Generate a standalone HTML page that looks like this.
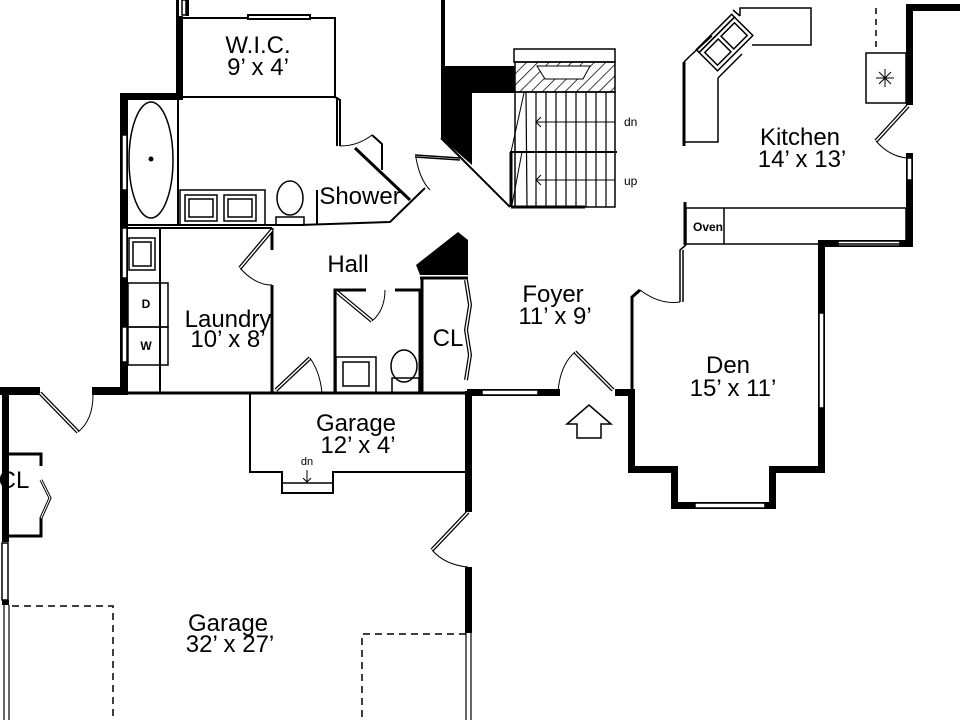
<!DOCTYPE html>
<html><head><meta charset="utf-8"><style>
html,body{margin:0;padding:0;background:#fff}
svg{display:block}
text{font-family:"Liberation Sans",sans-serif;fill:#000}
.lb{font-size:24px}
</style></head><body>
<svg width="960" height="720" viewBox="0 0 960 720" xmlns="http://www.w3.org/2000/svg">
<g fill="none" stroke="#000" stroke-width="2">
<rect x="181" y="18" width="154" height="79"/>
<rect x="248" y="15" width="62" height="4" fill="#fff"/>
<line x1="335" y1="97" x2="340" y2="100"/>
</g>
<g fill="#000">
<rect x="176" y="16" width="7" height="82"/>
<rect x="120" y="93" width="63" height="7"/>
<rect x="120" y="93" width="8" height="302"/>
<rect x="0" y="387" width="40" height="8"/>
<rect x="92" y="387" width="36" height="8"/>
<rect x="2" y="387" width="7" height="155"/>
<rect x="2" y="600" width="7" height="5"/>
<rect x="465" y="391" width="7" height="121"/>
<rect x="465" y="567" width="7" height="66"/>
<rect x="467" y="389" width="8" height="7"/>
<rect x="475" y="389" width="85" height="7"/>
<rect x="615" y="389" width="20" height="7"/>
<rect x="628" y="389" width="7" height="84"/>
<rect x="628" y="466" width="50" height="7"/>
<rect x="671" y="466" width="7" height="43"/>
<rect x="671" y="502" width="105" height="7"/>
<rect x="769" y="466" width="7" height="43"/>
<rect x="769" y="466" width="55" height="7"/>
<rect x="818" y="242" width="7" height="231"/>
<rect x="818" y="240" width="95" height="7"/>
<rect x="906" y="153" width="7" height="94"/>
<rect x="906" y="5" width="7" height="100"/>
<rect x="906" y="4" width="54" height="7"/>
<polygon points="441,0 445,0 445,66 515,66 515,93 472,93 472,165 441,138"/>
<polygon points="416,265 458,232 468,240 468,275 420,275"/>
<rect x="176" y="0" width="3" height="16"/><rect x="186" y="0" width="3" height="16"/>
</g>
<g fill="#fff" stroke="#000" stroke-width="1.5">
<rect x="122" y="135" width="5" height="55"/>
<rect x="122" y="228" width="5" height="50"/>
<rect x="122" y="327" width="5" height="35"/>
<rect x="2" y="543" width="6" height="57"/>
<rect x="482" y="390" width="56" height="5"/>
<rect x="695" y="503" width="70" height="5"/>
<rect x="819" y="313" width="5" height="95"/>
<rect x="838" y="241" width="62" height="5"/>
<rect x="907" y="158" width="5" height="22"/>
<rect x="182" y="0" width="4" height="15"/>
</g>
<g fill="none" stroke="#000" stroke-width="2">
<line x1="128" y1="225" x2="300" y2="225"/>
<path d="M300 225 L390 222 L425 188"/>
<line x1="178" y1="98" x2="178" y2="225"/>
<ellipse cx="151" cy="160" rx="22" ry="58" stroke-width="1.5"/>
<rect x="180" y="190" width="85" height="35" stroke-width="1.5"/>
<rect x="185" y="195" width="32" height="26" stroke-width="1.5"/>
<rect x="189" y="199" width="24" height="18" stroke-width="1.5"/>
<rect x="224" y="195" width="32" height="26" stroke-width="1.5"/>
<rect x="228" y="199" width="24" height="18" stroke-width="1.5"/>
<ellipse cx="290" cy="198" rx="13" ry="17" stroke-width="1.5"/>
<rect x="276" y="217" width="28" height="8" stroke-width="1.5"/>
<line x1="317" y1="190" x2="317" y2="225"/>
<line x1="355" y1="148" x2="410" y2="200" stroke-width="3"/>
<path d="M337 97 L337 146 M340 99 L340 146 M372 135 L382 144 L382 170" stroke-width="2"/>
<path d="M340 146 Q358 146 372 135" stroke-width="1"/>
<path d="M415 157 L460 160 M415 155 L460 158" stroke-width="1.5"/>
<path d="M416 158 Q420 180 430 190" stroke-width="1"/>
<line x1="128" y1="228" x2="272" y2="228"/>
<line x1="160" y1="228" x2="160" y2="393"/>
<rect x="129" y="238" width="26" height="32" stroke-width="1.5"/>
<rect x="133" y="242" width="18" height="24" stroke-width="1.5"/>
<rect x="128" y="283" width="40" height="44" stroke-width="1.5"/>
<rect x="128" y="327" width="40" height="38" stroke-width="1.5"/>
<line x1="272" y1="228" x2="272" y2="250" stroke-width="3"/>
<line x1="272" y1="285" x2="272" y2="393" stroke-width="3"/>
<path d="M272 230 L240 268" stroke-width="4"/><path d="M272 230 L240 268" stroke="#fff" stroke-width="1.5"/>
<path d="M240 268 Q255 285 272 285" stroke-width="1"/>
<path d="M335 393 L335 290 L366 290 M395 290 L420 290 L420 393" stroke-width="3"/>
<line x1="337" y1="292" x2="372" y2="321" stroke-width="4"/><line x1="337" y1="292" x2="372" y2="321" stroke="#fff" stroke-width="1.5"/>
<path d="M372 321 Q385 310 385 290" stroke-width="1"/>
<rect x="336" y="357" width="40" height="36" stroke-width="1.5"/>
<rect x="343" y="362" width="26" height="24" stroke-width="1.5"/>
<ellipse cx="404" cy="366" rx="13" ry="16" stroke-width="1.5"/>
<rect x="392" y="378" width="27" height="15" stroke-width="1.5"/>
<line x1="420" y1="278" x2="468" y2="278" stroke-width="3"/>
<path d="M422 278 L422 393" stroke-width="3"/>
<path d="M466 280 L470 305 L466 330 L470 355 L466 380" stroke-width="4"/><path d="M466 280 L470 305 L466 330 L470 355 L466 380" stroke="#fff" stroke-width="1.5"/>
<line x1="276" y1="390" x2="310" y2="358" stroke-width="4"/><line x1="276" y1="390" x2="310" y2="358" stroke="#fff" stroke-width="1.5"/>
<path d="M310 358 Q320 372 322 393" stroke-width="1"/>
<line x1="128" y1="393" x2="335" y2="393" stroke-width="3"/>
<line x1="322" y1="393" x2="468" y2="393" stroke-width="3"/>
<path d="M250 393 L250 472 L282 472 L282 493 L333 493 L333 472 L465 472"/>
<line x1="282" y1="483" x2="333" y2="483" stroke-width="1.5"/>
<path d="M307 470 L307 482 M303 478 L307 482 L311 478" stroke-width="1"/>
<path d="M40 393 L78 432" stroke-width="4"/><path d="M40 393 L78 432" stroke="#fff" stroke-width="1.5"/>
<path d="M78 432 Q93 420 93 395" stroke-width="1"/>
<path d="M8 454 L41 454 L41 466 M41 480 L50 498 L41 518 L41 536 L8 536" stroke-width="3"/>
<path d="M41 480 L50 498 L41 518" stroke="#fff" stroke-width="1"/>
<line x1="468" y1="512" x2="432" y2="550" stroke-width="4"/><line x1="468" y1="512" x2="432" y2="550" stroke="#fff" stroke-width="1.5"/>
<path d="M432 550 Q445 565 468 567" stroke-width="1"/>
<path d="M12 606 L113 606 L113 720" stroke-dasharray="7,5" stroke-width="1.5"/>
<path d="M466 634 L362 634 L362 720" stroke-dasharray="7,5" stroke-width="1.5"/>
<path d="M4 605 L4 720 M9 605 L9 720 M466 633 L466 720 M471 633 L471 720" stroke-width="1.2"/>
<line x1="575" y1="352" x2="613" y2="390" stroke-width="4"/><line x1="575" y1="352" x2="613" y2="390" stroke="#fff" stroke-width="1.5"/>
<path d="M575 352 Q560 365 558 392" stroke-width="1"/>
<path d="M567 424 L589 405 L611 424 L601 424 L601 438 L577 438 L577 424 Z" stroke-width="1.5"/>
<path d="M632 393 L632 297 L640 290" stroke-width="3"/>
<path d="M640 290 Q660 305 680 302" stroke-width="1"/>
<path d="M680 302 L680 250 L686 245 M683 302 L683 250" stroke-width="1.5"/>
<line x1="685" y1="245" x2="685" y2="202" stroke-width="3"/>
<rect x="686" y="208" width="220" height="36" stroke-width="1.5"/>
<line x1="724" y1="208" x2="724" y2="244" stroke-width="1.5"/>
<!-- kitchen counter -->
<path d="M684 62 L690 56 L712 36 M718 78 L742 54 M718 78 L718 142 L684 142" stroke-width="1.5"/>
<line x1="684" y1="62" x2="684" y2="146" stroke-width="3"/>
<path d="M740 16 L740 8 L811 8 L811 45 L752 45 M740 16 L733 10" stroke-width="1.5"/>
<g transform="rotate(-45 726 44)" stroke-width="1.5"><rect x="701" y="31" width="50" height="26" fill="#fff"/><rect x="705" y="35" width="19" height="18"/><rect x="728" y="35" width="19" height="18"/><rect x="701" y="27" width="50" height="4"/></g>
<rect x="866" y="53" width="40" height="50" stroke-width="1.5"/>
<path d="M876 8 L876 48" stroke-dasharray="6,5" stroke-width="1.5"/>
<g stroke-width="1" transform="translate(885 78)"><line x1="-9" y1="0" x2="9" y2="0"/><line x1="0" y1="-9" x2="0" y2="9"/><line x1="-6" y1="-6" x2="6" y2="6"/><line x1="-6" y1="6" x2="6" y2="-6"/></g>
<line x1="908" y1="106" x2="876" y2="141" stroke-width="4"/><line x1="908" y1="106" x2="876" y2="141" stroke="#fff" stroke-width="1.5"/>
<path d="M876 141 Q890 157 908 158" stroke-width="1"/>
<rect x="514" y="49" width="101" height="13" stroke-width="1.5"/>
<line x1="441" y1="138" x2="510" y2="207" stroke-width="2"/>
<rect x="515" y="92" width="100" height="115" stroke-width="1.5"/>
<line x1="510" y1="152" x2="617" y2="152" stroke-width="2"/>
<line x1="511" y1="207" x2="585" y2="207" stroke-width="3"/>
<line x1="511" y1="152" x2="511" y2="207" stroke-width="3"/>
<path d="M526 92 L527 207 M536 92 L536 207 M546 92 L546 207 M556 92 L556 207 M566 92 L566 207 M576 92 L576 207 M586 92 L586 207 M596 92 L596 207 M606 92 L606 207" stroke-width="1.2"/>
<path d="M536 122 L615 122 M541 117 L536 122 L541 127 M536 180 L615 180 M541 175 L536 180 L541 185" stroke-width="1"/>
<path d="M524 93 L511 152 M522 152 L512 205" stroke-width="1"/>
</g>
<defs><pattern id="h" width="8" height="8" patternUnits="userSpaceOnUse" patternTransform="rotate(45)"><line x1="0" y1="0" x2="0" y2="8" stroke="#000" stroke-width="1.5"/></pattern></defs>
<rect x="515" y="62" width="100" height="30" fill="url(#h)" stroke="#000" stroke-width="1.5"/>
<polygon points="537,66 590,66 583,79 545,79" fill="#fff" stroke="#000" stroke-width="1"/>
<g fill="#000"><circle cx="151" cy="159" r="2.5"/></g>
<text class="lb" x="258" y="53" text-anchor="middle">W.I.C.</text>
<text class="lb" x="258" y="75" text-anchor="middle">9’ x 4’</text>
<text class="lb" x="360" y="204" text-anchor="middle">Shower</text>
<text class="lb" x="348" y="272" text-anchor="middle">Hall</text>
<text class="lb" x="228" y="327" text-anchor="middle">Laundry</text>
<text class="lb" x="228" y="347" text-anchor="middle">10’ x 8’</text>
<text class="lb" x="448" y="346" text-anchor="middle">CL</text>
<text class="lb" x="553" y="302" text-anchor="middle">Foyer</text>
<text class="lb" x="555" y="324" text-anchor="middle">11’ x 9’</text>
<text class="lb" x="728" y="373" text-anchor="middle">Den</text>
<text class="lb" x="733" y="396" text-anchor="middle">15’ x 11’</text>
<text class="lb" x="800" y="145" text-anchor="middle">Kitchen</text>
<text class="lb" x="802" y="167" text-anchor="middle">14’ x 13’</text>
<text class="lb" x="356" y="431" text-anchor="middle">Garage</text>
<text class="lb" x="358" y="453" text-anchor="middle">12’ x 4’</text>
<text class="lb" x="228" y="631" text-anchor="middle">Garage</text>
<text class="lb" x="230" y="652" text-anchor="middle">32’ x 27’</text>
<text x="14" y="488" font-size="24" text-anchor="middle">CL</text>
<text x="624" y="126" font-size="12">dn</text>
<text x="624" y="185" font-size="12">up</text>
<text x="307" y="465" font-size="11" text-anchor="middle">dn</text>
<text x="708" y="231" font-size="12" font-weight="bold" text-anchor="middle">Oven</text>
<text x="146" y="308" font-size="12" font-weight="bold" text-anchor="middle">D</text>
<text x="146" y="350" font-size="12" font-weight="bold" text-anchor="middle">W</text>
</svg>
</body></html>
